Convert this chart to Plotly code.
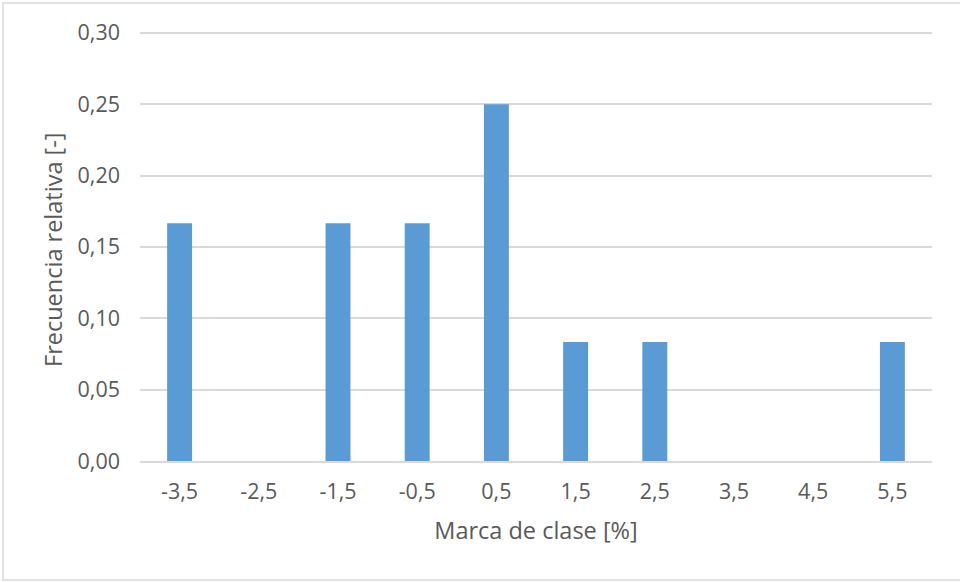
import plotly.graph_objects as go

# Class marks and relative frequencies
marcas = ["-3,5", "-2,5", "-1,5", "-0,5", "0,5", "1,5", "2,5", "3,5", "4,5", "5,5"]
frecuencias = [2/12, 0, 2/12, 2/12, 3/12, 1/12, 1/12, 0, 0, 1/12]
y_ticks = [0.0, 0.05, 0.10, 0.15, 0.20, 0.25, 0.30]
y_labels = ["0,00", "0,05", "0,10", "0,15", "0,20", "0,25", "0,30"]

W, H = 960, 582
L, R, T, B = 140, 28, 30, 121
text_color = "#595959"
font_family = "Open Sans, sans-serif"

fig = go.Figure(go.Bar(
    x=marcas, y=frecuencias,
    marker=dict(color="#5b9bd5", line=dict(width=0)),
    hoverinfo="skip",
))

fig.update_layout(
    width=W, height=H,
    margin=dict(l=L, r=R, t=T, b=B),
    paper_bgcolor="white", plot_bgcolor="white",
    bargap=0.685,
    showlegend=False,
    font=dict(family=font_family, size=21, color=text_color),
)

fig.update_xaxes(
    type="category",
    showgrid=False, showline=True, linecolor="#d9d9d9", linewidth=1.5,
    ticks="", ticklabelstandoff=10,
    tickfont=dict(size=21.5, color=text_color),
    title=dict(text="Marca de clase [%]", font=dict(size=23.5, color=text_color), standoff=19),
)

fig.update_yaxes(
    range=[0, 0.302],
    tickvals=y_ticks, ticktext=y_labels,
    showgrid=True, gridcolor="#d9d9d9", gridwidth=1.5,
    zeroline=False, showline=False, ticks="", ticklabelstandoff=19,
    tickfont=dict(size=21.5, color=text_color),
)

# Pixel-to-paper helpers for elements placed outside the plot area
pw, ph = W - L - R, H - T - B
def px_x(x):
    return (x - L) / pw
def px_y(y):
    return 1 - (y - T) / ph

# Vertical axis title
fig.add_annotation(
    text="Frecuencia relativa [-]", textangle=-90,
    xref="paper", yref="paper", x=px_x(53), y=px_y(250),
    xanchor="center", yanchor="middle", showarrow=False,
    font=dict(size=23.5, color=text_color),
)

# Chart-area frame
fig.add_shape(type="rect", xref="paper", yref="paper",
              x0=px_x(3), x1=px_x(1000), y0=px_y(3), y1=px_y(580),
              line=dict(color="#d9d9d9", width=1.5), layer="below")

fig.write_html("out.html")
